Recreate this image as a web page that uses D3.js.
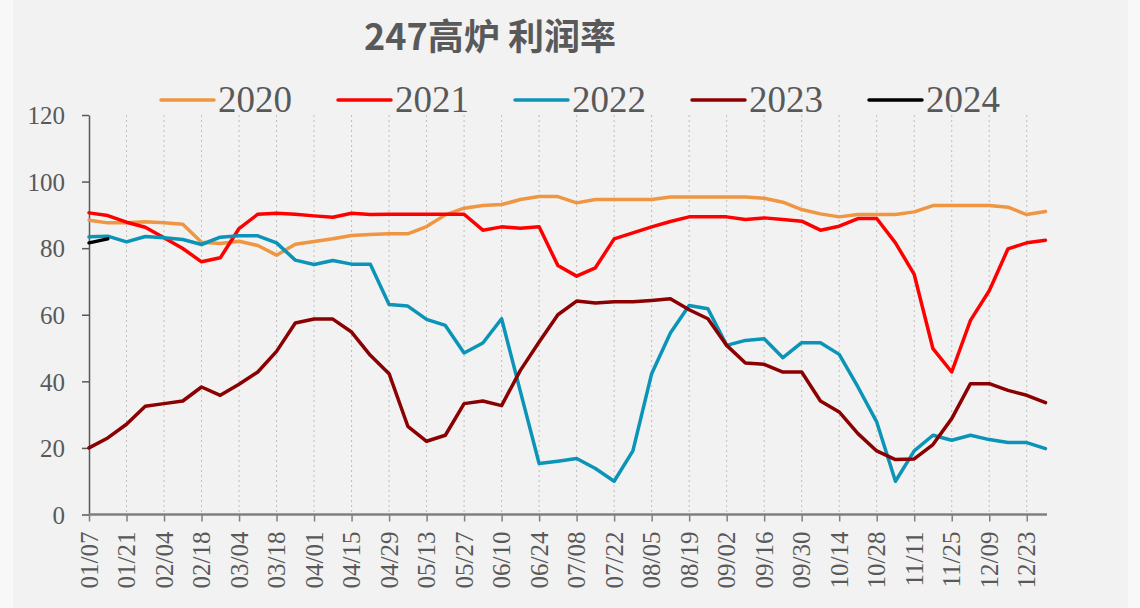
<!DOCTYPE html>
<html>
<head>
<meta charset="utf-8">
<script src="https://cdn.jsdelivr.net/npm/d3@7/dist/d3.min.js"></script>
<style>
  body { margin: 0; background: #f8f8f8; }
  svg { display: block; }
  .axis text { font-family: "Liberation Serif", serif; fill: #595959; }
</style>
</head>
<body>
<script>
var weeks = ["01/07","01/14","01/21","01/28","02/04","02/11","02/18","02/25","03/04","03/11",
  "03/18","03/25","04/01","04/08","04/15","04/22","04/29","05/06","05/13","05/20",
  "05/27","06/03","06/10","06/17","06/24","07/01","07/08","07/15","07/22","07/29",
  "08/05","08/12","08/19","08/26","09/02","09/09","09/16","09/23","09/30","10/07",
  "10/14","10/21","10/28","11/04","11/11","11/18","11/25","12/02","12/09","12/16",
  "12/23","12/30"];

var tickLabels = ["01/07","01/21","02/04","02/18","03/04","03/18","04/01","04/15","04/29",
  "05/13","05/27","06/10","06/24","07/08","07/22","08/05","08/19","09/02","09/16",
  "09/30","10/14","10/28","11/11","11/25","12/09","12/23"];

var yTicks = [0, 20, 40, 60, 80, 100, 120];

var years = ["2020", "2021", "2022", "2023", "2024"];
var colors = ["#ee9642", "#ff0000", "#0b94b8", "#8b0000", "#000000"];

var y2020 = [88.4,87.6,87.6,87.9,87.6,87.2,81.8,81.4,82.1,80.8,77.9,81.2,82.0,82.8,83.8,84.1,
  84.3,84.3,86.5,90.0,92.0,92.8,93.1,94.6,95.5,95.5,93.6,94.6,94.6,94.6,94.6,95.4,95.4,95.4,
  95.4,95.4,95.0,93.8,91.6,90.3,89.4,90.1,90.1,90.1,90.9,92.8,92.8,92.8,92.8,92.3,90.1,91.0];
var y2021 = [90.6,89.8,87.8,86.3,83.1,79.9,75.9,77.1,85.9,90.2,90.5,90.2,89.7,89.3,90.5,90.1,
  90.2,90.2,90.2,90.2,90.2,85.4,86.4,86.0,86.4,74.8,71.6,74.1,82.8,84.6,86.4,88.0,89.4,89.4,
  89.4,88.6,89.1,88.6,88.1,85.4,86.6,88.9,88.9,81.6,72.1,49.8,42.8,58.3,67.2,79.8,81.6,82.4];
var y2022 = [83.4,83.6,81.9,83.5,83.1,82.6,81.1,83.3,83.7,83.7,81.6,76.4,75.1,76.3,75.2,75.2,
  63.1,62.6,58.6,56.8,48.5,51.5,58.8,37.0,15.3,16.0,16.8,13.8,10.0,19.1,42.3,54.5,62.8,61.8,
  50.8,52.3,52.8,47.1,51.6,51.6,48.1,38.3,27.8,10.0,19.1,23.8,22.3,23.8,22.5,21.6,21.6,19.8];
var y2023 = [20.0,23.0,27.1,32.5,33.3,34.1,38.3,35.8,39.1,42.8,49.0,57.5,58.7,58.7,54.8,47.8,
  42.3,26.5,22.0,23.8,33.3,34.1,32.7,43.3,51.8,60.0,64.1,63.5,63.9,63.9,64.3,64.8,61.5,58.8,
  50.8,45.5,45.1,42.8,42.8,34.1,30.8,24.3,19.1,16.5,16.7,21.0,28.8,39.3,39.3,37.3,35.8,33.6];
var y2024 = [81.6, 82.8];

var series = [y2020, y2021, y2022, y2023, y2024];

var W = 1140, H = 608;
var svg = d3.select("body").append("svg").attr("width", W).attr("height", H);

svg.append("rect").attr("x", 13).attr("y", 0).attr("width", 1115).attr("height", H)
    .attr("fill", "#f2f2f2");

var x = d3.scalePoint().domain(weeks).range([89, 1045.5]).padding(0);
var y = d3.scaleLinear().domain([0, 120]).range([514.5, 115]);

// title
svg.append("text")
    .attr("x", 490).attr("y", 49.5)
    .attr("text-anchor", "middle")
    .style("font-family", "'Noto Sans CJK SC', sans-serif")
    .style("font-weight", "bold")
    .style("font-size", "36px")
    .style("fill", "#595959")
    .text("247高炉 利润率");

// vertical dotted grid
svg.append("g").selectAll("line")
    .data(tickLabels.slice(1))
  .enter().append("line")
    .attr("x1", function(d) { return x(d); })
    .attr("x2", function(d) { return x(d); })
    .attr("y1", y(120)).attr("y2", y(0))
    .attr("stroke", "#bdbdbd")
    .attr("stroke-width", 1)
    .attr("stroke-dasharray", "2,3");

// y axis
var yAxis = svg.append("g")
    .attr("class", "axis")
    .attr("transform", "translate(89,0)")
    .call(d3.axisLeft(y).tickValues(yTicks).tickSize(7).tickPadding(17).tickSizeOuter(0));
yAxis.select(".domain").attr("stroke", "#595959").attr("stroke-width", 1.5);
yAxis.selectAll(".tick line").attr("stroke", "#595959").attr("stroke-width", 1.5);
yAxis.selectAll("text").style("font-size", "25px").attr("dy", "0.35em");

// x axis
var xAxis = svg.append("g")
    .attr("class", "axis")
    .attr("transform", "translate(0," + y(0) + ")")
    .call(d3.axisBottom(x).tickValues(tickLabels).tickSize(7).tickSizeOuter(0));
xAxis.select(".domain").attr("d", "M89,0H1047").attr("stroke", "#7f7f7f").attr("stroke-width", 2.5);
xAxis.selectAll(".tick line").attr("stroke", "#7f7f7f").attr("stroke-width", 1.5);
xAxis.selectAll("text")
    .style("font-size", "25px")
    .attr("text-anchor", "end")
    .attr("transform", "rotate(-90)")
    .attr("x", -17)
    .attr("y", 0)
    .attr("dy", "0.33em");

// lines
var line = d3.line()
    .x(function(d, i) { return x(weeks[i]); })
    .y(function(d) { return y(d); });

svg.append("g").selectAll("path")
    .data(series)
  .enter().append("path")
    .attr("d", line)
    .attr("fill", "none")
    .attr("stroke", function(d, i) { return colors[i]; })
    .attr("stroke-width", 3.5)
    .attr("stroke-linejoin", "round")
    .attr("stroke-linecap", "round");

// legend
var legend = svg.append("g").selectAll("g")
    .data(years)
  .enter().append("g")
    .attr("transform", function(d, i) { return "translate(" + (161 + i * 177) + ",100)"; });

legend.append("line")
    .attr("x1", 0).attr("x2", 53)
    .attr("y1", 0).attr("y2", 0)
    .attr("stroke", function(d, i) { return colors[i]; })
    .attr("stroke-width", 3.5)
    .attr("stroke-linecap", "round");

legend.append("text")
    .attr("x", 57).attr("y", 11.5)
    .style("font-family", "'Liberation Serif', serif")
    .style("font-size", "37px")
    .style("fill", "#595959")
    .text(function(d) { return d; });
</script>
</body>
</html>
